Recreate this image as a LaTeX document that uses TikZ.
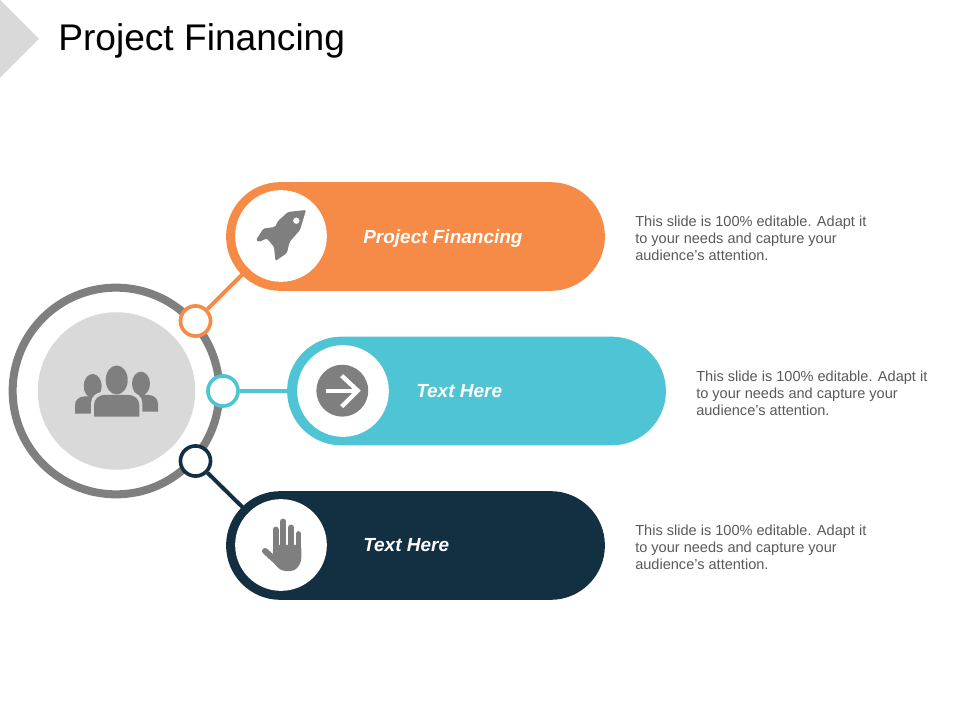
\documentclass[tikz,border=0pt]{standalone}
\usepackage{fontspec}
\setmainfont{Liberation Sans}
\definecolor{orangepill}{HTML}{F68B47}
\definecolor{tealpill}{HTML}{4FC4D4}
\definecolor{navypill}{HTML}{133042}
\definecolor{icongray}{HTML}{7F7F7F}
\definecolor{lightgray}{HTML}{D9D9D9}
\definecolor{bodygray}{HTML}{595959}
\tikzset{
  pill/.style={rectangle,rounded corners=38.6pt,minimum width=269.4pt,minimum height=77.3pt,inner sep=0pt},
  hole/.style={circle,fill=white,minimum size=65.2pt,inner sep=0pt},
  dot/.style={circle,draw=#1,fill=white,line width=2.6pt,minimum size=21.4pt,inner sep=0pt},
  link/.style={line width=2.8pt},
  pilltext/.style={text=white,font=\fontsize{13.5}{16}\selectfont\bfseries\itshape,anchor=base west,inner sep=0pt},
  note/.style={text=bodygray,font=\fontsize{10.35}{12.4}\selectfont,anchor=west,align=left,inner sep=0pt}
}
\begin{document}
\begin{tikzpicture}[x=0.025cm,y=-0.025cm]
\useasboundingbox (0,0) rectangle (960,720);
\fill [lightgray] (0,0)--(39,39)--(0,78)--cycle;
\node (title) [anchor=base west,inner sep=0pt,font=\fontsize{26.4}{32}\selectfont] at (58,50.7) {Project Financing};

% big ring on the left
\node (ring) [circle,draw=icongray,line width=5.7pt,minimum size=147pt,inner sep=0pt] at (116,391) {};
\node (disc) [circle,fill=lightgray,minimum size=112pt,inner sep=0pt] at (116.5,391) {};
\fill [icongray] (92.7,386) ellipse (9 and 12);
\fill [icongray] (75,413.7)--(75,405) to[out=90,in=180] (84,396.5)--(100,396.5)--(100,413.7)--cycle;
\fill [icongray] (141,383.7) ellipse (9 and 12);
\fill [icongray] (158,411.7)--(158,404) to[out=90,in=0] (149,395)--(132,395)--(132,411.7)--cycle;
\fill [lightgray] (91,418)--(91,403) to[out=90,in=180] (103,392)--(130,392) to[out=0,in=90] (142.3,403)--(142.3,418)--cycle;
\fill [icongray] (116.7,380) ellipse (11 and 14.5);
\fill [icongray] (94,416.7)--(94,405) to[out=90,in=180] (104,395)--(129,395) to[out=0,in=90] (139.3,405)--(139.3,416.7)--cycle;

% the three pills
\node (pa) [pill,fill=orangepill] at (415.5,236.5) {};
\node (pb) [pill,fill=tealpill] at (476.5,391) {};
\node (pc) [pill,fill=navypill] at (415.5,545.5) {};
\node (ha) [hole] at (281,236) {};
\node (hb) [hole] at (343,391) {};
\node (hc) [hole] at (281,545) {};
\node (da) [dot=orangepill] at (195.5,321) {};
\node (db) [dot=tealpill] at (223,391) {};
\node (dc) [dot=navypill] at (195.5,461) {};
\draw [link,orangepill] (da)--(ha);
\draw [link,tealpill] (db)--(hb);
\draw [link,navypill] (dc)--(hc);

% rocket
\fill [icongray,rounded corners=1pt,even odd rule] (306,210)--(288,212)--(278,221)--(275,227)--(263.5,228.5)--(256,240)--(258.5,242)--(267,238.5)--(274,247)--(275.5,261)--(287,253)--(289.5,242)--(300,230)--cycle (296.3,220.7) circle (3.3);
% arrow
\node (ar) [circle,fill=icongray,minimum size=36.9pt,inner sep=0pt] at (342.3,390.7) {};
\draw [white,line width=3.1pt] (325.7,390.7)--(357,390.7);
\draw [white,line width=3.1pt] (341.7,375.7)--(357.7,390.7)--(341.7,406.7);
% hand
\foreach \hx/\hy in {275.7/529.5,283.3/521.5,291.3/527.5,298.5/534}
  \draw [icongray,line width=4.1pt,line cap=round] (\hx,\hy)--(\hx,552);
\fill [icongray,rounded corners=3pt] (272.8,545)--(301.4,545)--(301.4,562)--(295,571)--(281,571)--(272.8,562)--cycle;
\draw [icongray,line width=4.3pt,line cap=round] (265,551)--(277,562);

\node (ta) [pilltext] at (363,243.3) {Project Financing};
\node (tb) [pilltext] at (416,398) {Text Here};
\node (tc) [pilltext] at (363,552) {Text Here};
\node (na) [note] at (635,238.3) {This slide is 100\% editable. Adapt it\\to your needs and capture your\\audience's attention.};
\node (nb) [note] at (696,393.3) {This slide is 100\% editable. Adapt it\\to your needs and capture your\\audience's attention.};
\node (nc) [note] at (635,547.3) {This slide is 100\% editable. Adapt it\\to your needs and capture your\\audience's attention.};
\end{tikzpicture}
\end{document}
